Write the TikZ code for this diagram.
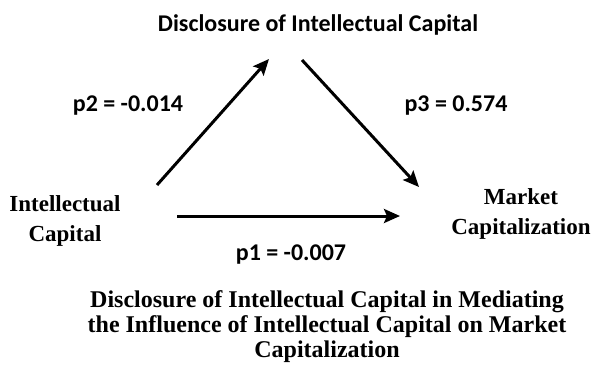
\documentclass[tikz,border=0pt]{standalone}
\usepackage{fontspec}
\setmainfont{Liberation Serif}
\newfontfamily\calibri{Carlito}
\usetikzlibrary{arrows.meta,positioning}

\begin{document}
\begin{tikzpicture}[x=1pt,y=-1pt,
  every node/.style={font=\bfseries\fontsize{23}{30}\selectfont,align=center,inner sep=0pt},
  lbl/.style={font=\calibri\bfseries\fontsize{24}{28}\selectfont},
  conn/.style={line width=3pt,-{Stealth[length=16pt,width=14pt,inset=3pt]}}]
  \useasboundingbox (0,0) rectangle (593,367);
  % variables
  \node[lbl] (dic) at (318,25)  {Disclosure of Intellectual Capital};
  \node      (ic)  at (65,221)  {Intellectual\\Capital};
  \node      (mc)  at (521,214) {Market\\Capitalization};
  % connector ends
  \coordinate (ic_up)   at (157,185);
  \coordinate (dic_in)  at (269,59);
  \coordinate (dic_out) at (302,60);
  \coordinate (mc_in)   at (419,187);
  \coordinate (ic_rt)   at (177,216);
  \coordinate (mc_lt)   at (400,216);
  \path[conn]
  (ic_up)   edge (dic_in)
  (dic_out) edge (mc_in)
  (ic_rt)   edge (mc_lt);
  % coefficients
  \node[lbl] (p2) at (128,106) {p2 = -0.014};
  \node[lbl] (p3) at (456,106) {p3 = 0.574};
  \node[lbl] (p1) at (291,255) {p1 = -0.007};
  \node[font=\bfseries\fontsize{24}{25}\selectfont] (cap) at (327,327)
    {Disclosure of Intellectual Capital in Mediating\\the Influence of Intellectual Capital on Market\\Capitalization};
\end{tikzpicture}
\end{document}
